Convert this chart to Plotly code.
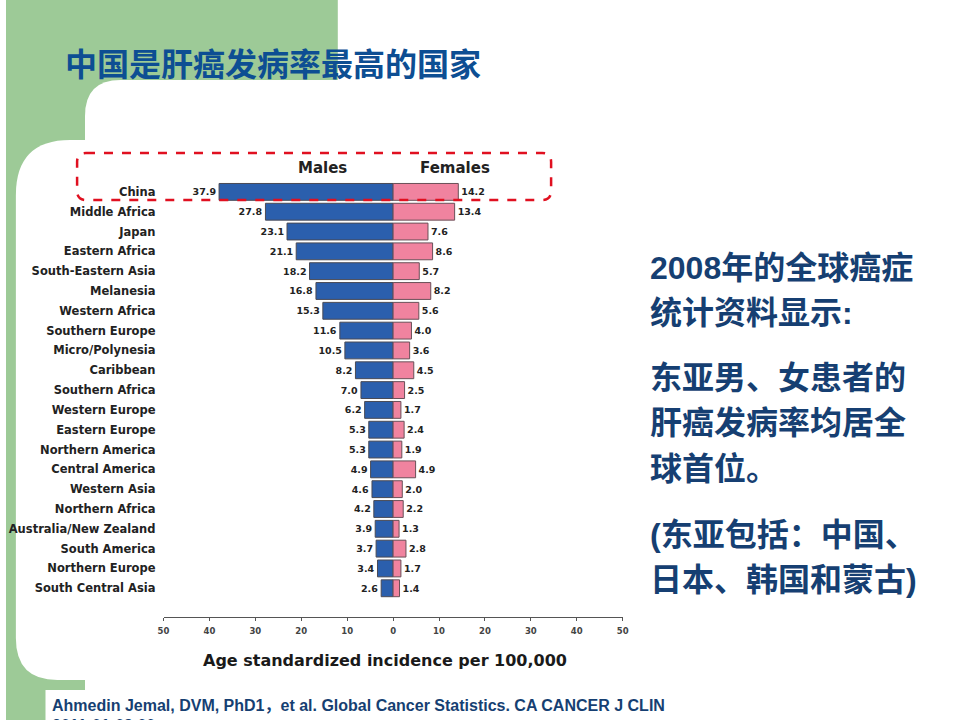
import plotly.graph_objects as go

# data (age standardized incidence per 100,000)
regions = [
    "China", "Middle Africa", "Japan", "Eastern Africa", "South-Eastern Asia",
    "Melanesia", "Western Africa", "Southern Europe", "Micro/Polynesia", "Caribbean",
    "Southern Africa", "Western Europe", "Eastern Europe", "Northern America",
    "Central America", "Western Asia", "Northern Africa", "Australia/New Zealand",
    "South America", "Northern Europe", "South Central Asia",
]
males = [37.9, 27.8, 23.1, 21.1, 18.2, 16.8, 15.3, 11.6, 10.5, 8.2,
         7.0, 6.2, 5.3, 5.3, 4.9, 4.6, 4.2, 3.9, 3.7, 3.4, 2.6]
females = [14.2, 13.4, 7.6, 8.6, 5.7, 8.2, 5.6, 4.0, 3.6, 4.5,
           2.5, 1.7, 2.4, 1.9, 4.9, 2.0, 2.2, 1.3, 2.8, 1.7, 1.4]
tick_vals = [-50, -40, -30, -20, -10, 0, 10, 20, 30, 40, 50]
tick_text = ["50", "40", "30", "20", "10", "0", "10", "20", "30", "40", "50"]

title = "中国是肝癌发病率最高的国家"
side_lines = ["2008年的全球癌症", "统计资料显示:", "东亚男、女患者的",
              "肝癌发病率均居全", "球首位。", "(东亚包括：中国、", "日本、韩国和蒙古)"]
citation = "Ahmedin Jemal, DVM, PhD1，et al. Global Cancer Statistics. CA CANCER J CLIN"

W, H = 960, 720
GREEN = "#9dca97"
BLUE = "#2b5fad"
PINK = "#f0839f"
NAVY = "#163f72"
CHART_FONT = "DejaVu Sans"


def px(x):
    return x / W


def py(y):
    return 1 - y / H


fig = go.Figure()

fig.add_trace(go.Bar(
    y=regions, x=[-v for v in males], orientation="h", width=0.85,
    marker=dict(color=BLUE, line=dict(color="#4a4a55", width=1)),
    text=[f"{v:.1f}" for v in males], textposition="outside",
    textfont=dict(family=CHART_FONT, size=9.5, color="#222", weight="bold"),
    cliponaxis=False, showlegend=False,
))
fig.add_trace(go.Bar(
    y=regions, x=females, orientation="h", width=0.85,
    marker=dict(color=PINK, line=dict(color="#6a5058", width=1)),
    text=[f"{v:.1f}" for v in females], textposition="outside",
    textfont=dict(family=CHART_FONT, size=9.5, color="#222", weight="bold"),
    cliponaxis=False, showlegend=False,
))

# background: green slide frame with white rounded panels
shapes = []
shapes.append(dict(type="rect", xref="paper", yref="paper", x0=0, x1=px(336), y0=py(200), y1=1,
                   fillcolor=GREEN, line_width=0, layer="below"))
shapes.append(dict(type="rect", xref="paper", yref="paper", x0=0, x1=px(80), y0=0, y1=1,
                   fillcolor=GREEN, line_width=0, layer="below"))
r = 36
shapes.append(dict(type="path", xref="paper", yref="paper", layer="below",
                   path=f"M {px(80+r)},{py(80)} L {px(960)},{py(80)} L {px(960)},{py(200)} "
                        f"L {px(80)},{py(200)} L {px(80)},{py(80+r)} Q {px(80)},{py(80)} {px(80+r)},{py(80)} Z",
                   fillcolor="white", line_width=0))
r1, r2 = 55, 42
shapes.append(dict(type="path", xref="paper", yref="paper", layer="below",
                   path=f"M {px(10+r1)},{py(140)} L {px(960)},{py(140)} L {px(960)},{py(680)} "
                        f"L {px(10+r2)},{py(680)} Q {px(10)},{py(680)} {px(10)},{py(680-r2)} "
                        f"L {px(10)},{py(140+r1)} Q {px(10)},{py(140)} {px(10+r1)},{py(140)} Z",
                   fillcolor="white", line_width=0))
shapes.append(dict(type="rect", xref="paper", yref="paper", x0=px(80), x1=1, y0=0, y1=py(679),
                   fillcolor="white", line_width=0, layer="below"))
shapes.append(dict(type="rect", xref="paper", yref="paper", x0=px(40), x1=1, y0=0, y1=py(690),
                   fillcolor="white", line_width=0, layer="below"))
# red dashed highlight around China row
rr = 9
x0, x1, y0, y1 = 72, 552, 153, 200
shapes.append(dict(type="path", xref="paper", yref="paper", layer="above",
                   path=f"M {px(x0+rr)},{py(y0)} L {px(x1-rr)},{py(y0)} Q {px(x1)},{py(y0)} {px(x1)},{py(y0+rr)} "
                        f"L {px(x1)},{py(y1-rr)} Q {px(x1)},{py(y1)} {px(x1-rr)},{py(y1)} "
                        f"L {px(x0+rr)},{py(y1)} Q {px(x0)},{py(y1)} {px(x0)},{py(y1-rr)} "
                        f"L {px(x0)},{py(y0+rr)} Q {px(x0)},{py(y0)} {px(x0+rr)},{py(y0)} Z",
                   line=dict(color="#e01020", width=2.5, dash="dash")))


def note(text, x, y, size, color, family, anchor="left"):
    return dict(text=text, x=px(x), y=py(y), xref="paper", yref="paper",
                xanchor=anchor, yanchor="middle", showarrow=False,
                font=dict(family=family, size=size, color=color))


annotations = []
annotations.append(note(f"<b>{title}</b>", 58, 62, 32, "#0d4e93", "Noto Sans CJK SC"))
line_y = [268, 313, 378, 423, 469, 535, 580]
for txt, ly in zip(side_lines, line_y):
    annotations.append(note(f"<b>{txt}</b>", 650, ly, 32, NAVY, "Liberation Sans, Noto Sans CJK SC"))
annotations.append(note("<b>Males</b>", 320, 168, 15, "#222", CHART_FONT, "center"))
annotations.append(note("<b>Females</b>", 455, 168, 15, "#222", CHART_FONT, "center"))
annotations.append(note("<b>Age standardized incidence per 100,000</b>", 384, 660, 16, "#1a1a1a",
                        CHART_FONT, "center"))
annotations.append(note(f"<b>{citation}</b>", 45, 705, 16, NAVY, "Liberation Sans, Noto Sans CJK SC"))
annotations.append(note("<b>2011-01-09 00</b>", 45, 725, 16, NAVY, "Liberation Sans"))

fig.update_layout(
    width=W, height=H,
    margin=dict(l=0, r=0, t=0, b=0),
    paper_bgcolor="white", plot_bgcolor="rgba(0,0,0,0)",
    barmode="overlay",
    shapes=shapes, annotations=annotations,
    xaxis=dict(domain=[px(159.5), px(624.5)], range=[-50, 50], tickvals=tick_vals, ticktext=tick_text,
               showgrid=False, zeroline=False, showline=True, linecolor="#555", linewidth=1,
               ticks="outside", ticklen=3, tickcolor="#555", ticklabelstandoff=3,
               tickfont=dict(family=CHART_FONT, size=8.5, color="#444", weight="bold")),
    yaxis=dict(domain=[py(617), py(180)], categoryorder="array", categoryarray=regions,
               range=[21.45, -0.6], showgrid=False, zeroline=False, showline=False, ticks="",
               ticklabelstandoff=7,
               tickfont=dict(family=CHART_FONT, size=11.5, color="#222", weight="bold")),
)

# the page's default body margin would shift the slide by 8px
fig.write_html("out.html", config={"displayModeBar": False},
               post_script="document.body.style.margin='0';")
